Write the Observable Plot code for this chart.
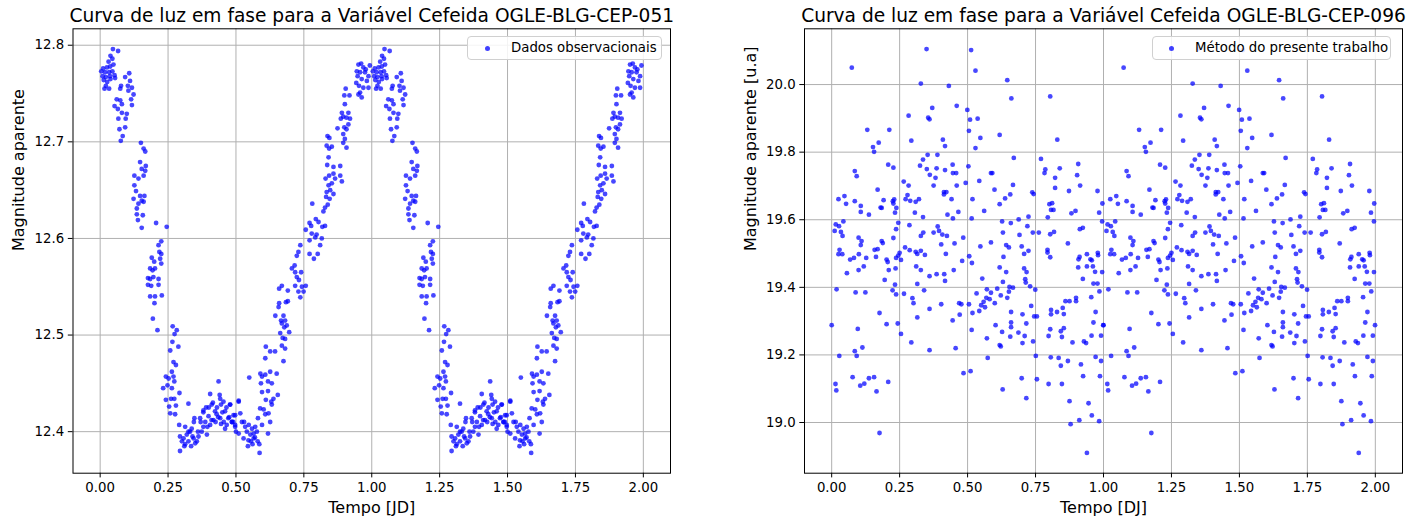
<!DOCTYPE html>
<html>
<head>
<meta charset="utf-8">
<script src="https://cdn.jsdelivr.net/npm/d3@7"></script>
<script src="https://cdn.jsdelivr.net/npm/@observablehq/plot@0.6"></script>
<style>
  html, body { margin: 0; padding: 0; background: white; }
  #root { position: relative; width: 1424px; height: 521px; overflow: hidden; font-family: "DejaVu Sans", sans-serif; }
  .panel { position: absolute; top: 0; }
  .legend { position: absolute; box-sizing: border-box; border: 1px solid #d0d0d0; border-radius: 4px; background: rgba(255,255,255,0.85); font-size: 13.3px; color: #000; }
  .legend .dot { position: absolute; width: 5px; height: 5px; border-radius: 50%; background: rgba(0,0,255,0.75); }
  .legend .lab { position: absolute; white-space: nowrap; line-height: 1; }
</style>
</head>
<body>
<div id="root"></div>
<script>
// ---------- Texts ----------
const titleL = "Curva de luz em fase para a Variável Cefeida OGLE-BLG-CEP-051";
const titleR = "Curva de luz em fase para a Variável Cefeida OGLE-BLG-CEP-096";
const xLabelL = "Tempo [JD]";
const xLabelR = "Tempo [DJ]";
const yLabelL = "Magnitude aparente";
const yLabelR = "Magnitude aparente [u.a]";
const legendL = "Dados observacionais";
const legendR = "Método do presente trabalho";

// ---------- Ticks ----------
const xTicks = [0, 0.25, 0.5, 0.75, 1.0, 1.25, 1.5, 1.75, 2.0];
const yTicksL = [12.4, 12.5, 12.6, 12.7, 12.8];
const yTicksR = [19.0, 19.2, 19.4, 19.6, 19.8, 20.0];

// ---------- Cycles shown (phase folded light curve drawn twice) ----------
const cycles = [0, 1];

// ---------- OGLE-BLG-CEP-051: phase / magnitude ----------
const phaseL = [
0.047,0.066,0.038,0.045,0.031,0.049,0.011,0.025,0.037,0.004,0.018,0.033,0.045,0.009,0.021,0.036,0.053,0.013,0.026,0.038,0.021,0.033,0.016,0.055,
0.107,0.092,0.110,0.102,0.117,0.077,0.104,0.123,0.114,0.074,0.061,0.074,0.080,0.053,0.065,0.080,0.098,0.067,0.094,0.092,0.071,0.083,0.076,0.117,
0.150,0.160,0.166,0.147,0.168,0.153,0.166,0.126,0.141,0.160,0.126,0.132,0.147,0.163,0.123,0.153,0.141,0.160,0.135,0.135,0.157,0.139,0.153,0.206,0.245,
0.225,0.215,0.218,0.225,0.190,0.199,0.221,0.225,0.184,0.193,0.202,0.176,0.184,0.196,0.215,0.176,0.188,0.215,0.184,0.202,0.227,0.200,0.194,0.211,
0.267,0.282,0.274,0.266,0.258,0.288,0.270,0.279,0.264,0.242,0.252,0.270,0.248,0.273,0.232,0.264,0.292,0.242,0.261,0.273,0.254,0.279,0.258,0.276,
0.291,0.313,0.294,0.307,0.319,0.325,0.301,0.331,0.344,0.356,0.362,0.325,0.347,0.374,0.380,0.393,0.368,0.380,0.399,0.405,0.417,0.423,0.411,0.405,
0.436,0.442,0.445,0.429,0.454,0.460,0.472,0.485,0.497,0.478,0.466,0.294,0.350,0.313,0.337,0.387,0.442,0.497,
0.380,0.400,0.415,0.430,0.435,0.450,0.455,0.465,0.475,0.490,0.335,0.340,0.360,0.370,0.395,0.410,0.425,0.445,0.460,0.500,0.510,0.555,0.570,0.580,0.530,0.440,0.310,0.325,0.345,0.390,
0.479,0.491,0.510,0.516,0.485,0.497,0.522,0.534,0.547,0.559,0.571,0.540,0.553,0.565,0.577,0.528,0.546,0.565,0.544,0.561,0.586,0.587,0.618,0.596,0.581,0.549,0.510,
0.626,0.608,0.602,0.620,0.589,0.632,0.610,0.630,0.638,0.596,0.618,0.654,0.592,0.618,0.632,0.596,0.608,0.626,0.590,0.650,0.608,0.626,0.644,0.610,0.675,0.669,0.681,0.672,0.663,0.681,0.696,0.678,0.669,0.666,0.681,0.687,0.645,0.675,0.657,0.659,0.684,0.691,0.669,0.659,0.691,
0.706,0.716,0.724,0.732,0.718,0.730,0.743,0.749,0.757,0.737,0.718,0.740,0.724,0.730,0.737,0.771,0.771,0.787,0.801,0.810,0.792,0.779,0.797,0.816,0.757,0.771,0.777,0.794,0.804,0.818,0.828,
0.781,0.822,0.828,0.838,0.832,0.845,0.834,0.847,0.841,0.853,0.859,0.830,0.843,0.859,0.865,0.884,0.890,0.859,0.884,0.836,0.841,0.843,0.834,0.853,0.837,0.844,
0.874,0.895,0.907,0.901,0.895,0.907,0.914,0.899,0.886,0.895,0.907,0.920,0.890,0.914,0.901,0.899,0.904,0.918,
0.951,0.961,0.969,0.945,0.957,0.975,0.948,0.963,0.982,0.953,0.969,0.957,0.963,0.951,0.988,0.988,0.978,0.993,0.943
];
const magL = [
12.796,12.794,12.789,12.786,12.783,12.780,12.776,12.777,12.778,12.773,12.772,12.772,12.773,12.768,12.767,12.768,12.769,12.764,12.762,12.765,12.758,12.755,12.755,12.766,
12.771,12.767,12.763,12.758,12.756,12.758,12.753,12.749,12.744,12.755,12.744,12.743,12.739,12.737,12.734,12.730,12.729,12.724,12.724,12.715,12.713,12.706,12.701,12.738,
12.699,12.693,12.690,12.679,12.675,12.672,12.670,12.665,12.662,12.665,12.655,12.649,12.644,12.644,12.641,12.639,12.636,12.638,12.631,12.625,12.624,12.619,12.611,12.616,12.612,
12.597,12.593,12.586,12.584,12.580,12.576,12.579,12.574,12.569,12.567,12.569,12.559,12.558,12.560,12.558,12.552,12.551,12.552,12.540,12.540,12.541,12.533,12.517,12.505,
12.509,12.505,12.501,12.493,12.484,12.488,12.472,12.469,12.462,12.457,12.455,12.457,12.448,12.452,12.445,12.445,12.440,12.433,12.434,12.434,12.426,12.427,12.419,12.418,
12.407,12.405,12.395,12.393,12.397,12.390,12.390,12.400,12.393,12.390,12.395,12.429,12.414,12.400,12.405,12.397,12.414,12.422,12.416,12.407,12.412,12.421,12.428,12.439,
12.452,12.434,12.428,12.418,12.431,12.421,12.414,12.410,12.405,12.428,12.407,12.380,12.388,12.387,12.403,12.410,12.414,12.417,
12.420,12.425,12.430,12.425,12.415,12.420,12.410,12.425,12.415,12.410,12.385,12.395,12.400,12.410,12.405,12.412,12.410,12.408,12.403,12.400,12.398,12.390,12.394,12.390,12.410,12.438,12.385,12.400,12.410,12.425,
12.428,12.417,12.431,12.419,12.410,12.407,12.410,12.405,12.407,12.403,12.405,12.400,12.397,12.398,12.400,12.393,12.391,12.393,12.385,12.387,12.387,12.378,12.398,12.407,12.414,12.456,12.432,
12.410,12.418,12.423,12.419,12.424,12.428,12.433,12.431,12.434,12.441,12.442,12.438,12.450,12.452,12.450,12.457,12.459,12.462,12.460,12.460,12.476,12.483,12.483,12.488,12.473,12.489,12.486,12.497,12.502,12.496,12.503,12.508,12.512,12.515,12.515,12.510,12.520,12.520,12.529,12.533,12.534,12.535,12.551,12.548,12.546,
12.569,12.572,12.560,12.557,12.551,12.545,12.550,12.545,12.551,12.539,12.565,12.565,12.582,12.586,12.593,12.598,12.584,12.579,12.584,12.593,12.601,12.605,12.604,12.600,12.609,12.616,12.613,12.620,12.617,12.612,12.613,
12.636,12.628,12.632,12.635,12.643,12.641,12.648,12.650,12.655,12.657,12.646,12.662,12.665,12.667,12.662,12.665,12.659,12.674,12.675,12.676,12.684,12.693,12.696,12.695,12.706,12.704,
12.714,12.699,12.694,12.703,12.708,12.713,12.718,12.715,12.724,12.726,12.725,12.724,12.730,12.730,12.739,12.748,12.755,12.748,
12.780,12.781,12.777,12.773,12.772,12.772,12.768,12.765,12.763,12.758,12.756,12.751,12.746,12.749,12.768,12.756,12.775,12.779,12.761
];

// ---------- OGLE-BLG-CEP-096: phase / magnitude ----------
const phaseR = [
0.349,0.074,0.328,0.431,0.460,0.370,0.355,0.360,0.283,0.499,0.131,0.212,0.293,0.409,0.417,0.152,0.173,0.156,0.353,0.389,0.336,0.208,0.227,0.325,0.350,0.386,0.417,0.445,0.361,0.382,0.446,0.458,0.085,0.092,0.265,0.283,0.375,0.460,0.493,0.169,
0.413,0.422,0.413,0.279,0.272,0.289,0.309,0.321,0.441,0.025,0.047,0.053,0.085,0.107,0.107,0.137,0.180,0.184,0.191,0.225,0.230,0.227,0.238,0.233,0.306,0.336,0.426,0.466,0.446,0.245,0.286,0.237,0.043,0.015,0.027,0.011,0.034,0.040,
0.337,0.328,0.375,0.390,0.395,0.407,0.424,0.484,0.099,0.110,0.184,0.188,0.227,0.107,0.403,0.452,0.029,0.025,0.039,0.158,0.169,0.270,0.287,0.309,0.315,0.328,0.343,0.250,0.245,0.100,0.163,0.237,0.255,0.202,0.206,0.127,0.082,0.068,0.420,0.480,
0.118,0.311,0.328,0.235,0.210,0.099,0.056,0.360,0.386,0.414,0.417,0.449,0.195,0.233,0.315,0.224,0.237,0.266,0.340,0.297,0.301,0.018,0.088,0.124,0.403,0.469,0.477,0.360,0.176,0.471,0.315,0.445,0.000,0.202,0.243,0.096,0.255,0.293,0.113,0.085,
0.360,0.456,0.028,0.092,0.485,0.077,0.137,0.156,0.208,0.120,0.105,0.014,0.017,0.165,0.176,
0.513,0.529,0.646,0.661,0.804,0.509,0.537,0.505,0.547,0.618,0.529,0.830,0.670,0.770,0.503,0.586,0.591,0.786,0.783,0.839,0.907,0.903,0.543,0.822,0.667,0.914,0.822,0.599,0.738,0.743,0.657,0.638,0.873,0.978,0.518,0.618,0.801,0.811,0.996,0.807,
0.816,0.561,0.882,0.897,0.984,0.724,0.795,0.688,0.515,0.627,0.659,0.720,0.995,0.924,0.913,0.630,0.740,0.762,0.804,0.818,0.691,0.586,0.547,0.642,0.652,0.699,0.724,0.708,0.869,0.794,0.794,0.804,0.912,0.908,0.939,0.952,0.957,0.979,0.980,0.995,
0.632,0.506,0.516,0.618,0.642,0.708,0.717,0.907,0.939,0.961,0.969,0.924,0.963,0.978,0.554,0.630,0.712,0.714,0.654,0.667,0.730,0.749,0.609,0.571,0.652,0.586,0.622,0.646,0.533,0.569,0.581,0.600,0.559,0.550,0.564,0.505,0.543,0.518,0.860,0.875,
0.899,0.899,0.955,0.985,0.734,0.850,0.660,0.702,0.745,0.755,0.807,0.807,0.829,0.854,0.971,0.660,0.716,0.963,0.603,0.660,0.999,0.515,0.804,0.854,0.843,0.627,0.687,0.657,0.710,0.798,0.847,0.956,0.991,0.571,0.741,0.702,0.886,0.928,0.936,0.618,
0.622,0.574,0.751,0.806,0.835,0.869,0.971,0.991,0.843,0.917,0.511,0.699,0.755,0.925,0.987,0.798,0.847,0.629,0.716,0.875,0.945,0.957,0.911,0.879,0.984,0.939
];
const magR = [
20.105,20.050,20.003,19.996,19.937,19.931,19.902,19.897,19.908,19.925,19.866,19.866,19.834,19.837,19.818,19.815,19.828,19.801,19.792,19.792,19.778,19.763,19.754,19.760,19.750,19.752,19.747,19.763,19.733,19.724,19.738,19.738,19.744,19.729,19.713,19.701,19.701,19.701,19.709,19.689,
19.682,19.682,19.675,19.673,19.661,19.656,19.653,19.661,19.661,19.661,19.670,19.647,19.655,19.641,19.623,19.615,19.636,19.635,19.658,19.655,19.660,19.648,19.635,19.621,19.621,19.608,19.615,19.623,19.604,19.591,19.584,19.572,19.595,19.586,19.581,19.567,19.564,19.552,
19.562,19.552,19.562,19.580,19.567,19.556,19.552,19.547,19.547,19.537,19.537,19.531,19.546,19.525,19.527,19.530,19.511,19.498,19.498,19.511,19.513,19.518,19.510,19.505,19.499,19.508,19.496,19.502,19.494,19.498,19.490,19.487,19.481,19.482,19.475,19.487,19.487,19.482,19.499,19.478,
19.462,19.462,19.451,19.456,19.451,19.451,19.442,19.433,19.439,19.439,19.419,19.451,19.422,19.408,19.410,19.391,19.379,19.381,19.391,19.368,19.353,19.394,19.385,19.385,19.350,19.353,19.350,19.336,19.324,19.319,19.311,19.302,19.288,19.291,19.293,19.277,19.262,19.237,19.222,19.211,
19.214,19.220,19.197,19.197,19.146,19.134,19.131,19.134,19.120,19.115,19.109,19.114,19.095,19.092,18.969,
20.102,20.041,20.013,19.959,19.965,19.896,19.899,19.863,19.842,19.851,19.812,19.837,19.783,19.780,19.758,19.738,19.738,19.749,19.738,19.752,19.765,19.732,19.715,19.724,19.703,19.701,19.694,19.689,19.681,19.676,19.675,19.663,19.685,19.685,19.661,19.646,19.646,19.649,19.648,19.629,
19.629,19.626,19.619,19.626,19.621,19.609,19.607,19.601,19.604,19.595,19.590,19.581,19.595,19.576,19.572,19.562,19.562,19.562,19.557,19.564,19.555,19.533,19.521,19.525,19.518,19.521,19.508,19.499,19.530,19.511,19.503,19.489,19.490,19.483,19.498,19.483,19.480,19.502,19.495,19.445,
19.490,19.492,19.472,19.459,19.445,19.456,19.445,19.459,19.462,19.462,19.446,19.425,19.411,19.411,19.426,19.416,19.424,19.414,19.401,19.399,19.403,19.393,19.396,19.394,19.387,19.384,19.376,19.369,19.382,19.369,19.365,19.353,19.357,19.347,19.341,19.350,19.330,19.324,19.359,19.359,
19.369,19.359,19.371,19.388,19.345,19.339,19.327,19.320,19.314,19.314,19.333,19.320,19.327,19.321,19.327,19.296,19.293,19.296,19.288,19.282,19.288,19.274,19.276,19.279,19.270,19.268,19.266,19.254,19.256,19.256,19.253,19.257,19.257,19.249,19.240,19.235,19.237,19.240,19.235,19.229,
19.225,19.191,19.197,19.193,19.191,19.182,19.194,19.182,19.168,19.172,19.152,19.131,19.128,19.137,19.137,19.114,19.114,19.098,19.072,19.063,19.057,19.021,19.007,18.995,19.004,18.910
];

// ---------- Axis domains (matplotlib auto limits with 5% margins) ----------
const xDomain = [-0.1, 2.1];
const yDomainL = [12.357, 12.817];
const yDomainR = [18.850, 20.165];

function fold(phase, mag) {
  return cycles.flatMap(c => phase.map((p, i) => ({x: p + c, y: mag[i]})));
}

function panel({data, yDomain, yTicks, yFmt, title, xLabel, yLabel, marginLeft, marginRight}) {
  return Plot.plot({
    width: 712,
    height: 521,
    marginLeft, marginRight,
    marginTop: 28.3,
    marginBottom: 48.3,
    style: {fontFamily: "DejaVu Sans, sans-serif", fontSize: "13.3px", color: "#000", background: "transparent", overflow: "visible"},
    x: {domain: xDomain, label: null},
    y: {domain: yDomain, label: null},
    marks: [
      Plot.gridX(xTicks, {stroke: "#b0b0b0", strokeOpacity: 1, strokeWidth: 1}),
      Plot.gridY(yTicks, {stroke: "#b0b0b0", strokeOpacity: 1, strokeWidth: 1}),
      Plot.axisX(xTicks, {tickSize: 4.7, tickPadding: 4.2, tickFormat: d3.format(".2f"), fontSize: 13.3, label: null, stroke: "#000"}),
      Plot.axisY(yTicks, {tickSize: 4.7, tickPadding: 4.2, tickFormat: d3.format(yFmt), fontSize: 13.3, label: null, stroke: "#000"}),
      Plot.dot(data, {x: "x", y: "y", r: 2.4, fill: "#0000ff", fillOpacity: 0.72, stroke: "none"}),
      Plot.frame({stroke: "#000", strokeWidth: 1}),
      Plot.text([title], {frameAnchor: "top", dy: -7, lineAnchor: "bottom", fontSize: 18.6, fill: "#000"}),
      Plot.text([xLabel], {frameAnchor: "bottom", dy: 40, lineAnchor: "bottom", fontSize: 16, fill: "#000"}),
      Plot.text([yLabel], {frameAnchor: "left", dx: -54, rotate: -90, fontSize: 16, fill: "#000"})
    ]
  });
}

const root = document.getElementById("root");

const left = panel({data: fold(phaseL, magL), yDomain: yDomainL, yTicks: yTicksL, yFmt: ".1f",
  title: titleL, xLabel: xLabelL, yLabel: yLabelL, marginLeft: 72.5, marginRight: 42});
left.classList.add("panel");
left.style.left = "0px";
root.appendChild(left);

const right = panel({data: fold(phaseR, magR), yDomain: yDomainR, yTicks: yTicksR, yFmt: ".1f",
  title: titleR, xLabel: xLabelR, yLabel: yLabelR, marginLeft: 92, marginRight: 22});
right.classList.add("panel");
right.style.left = "712px";
root.appendChild(right);

function addLegend(x, y, w, h, dotX, textX, label) {
  const box = document.createElement("div");
  box.className = "legend";
  Object.assign(box.style, {left: x + "px", top: y + "px", width: w + "px", height: h + "px"});
  const dot = document.createElement("div");
  dot.className = "dot";
  Object.assign(dot.style, {left: (dotX - x - 2.5) + "px", top: (h / 2 - 3.5) + "px"});
  const lab = document.createElement("div");
  lab.className = "lab";
  lab.textContent = label;
  Object.assign(lab.style, {left: (textX - x) + "px", top: (h / 2 - 8.5) + "px"});
  box.appendChild(dot);
  box.appendChild(lab);
  root.appendChild(box);
}
addLegend(467, 36, 195, 24, 486, 510, legendL);
addLegend(1152, 36, 239, 24, 1170, 1194, legendR);
</script>
</body>
</html>
